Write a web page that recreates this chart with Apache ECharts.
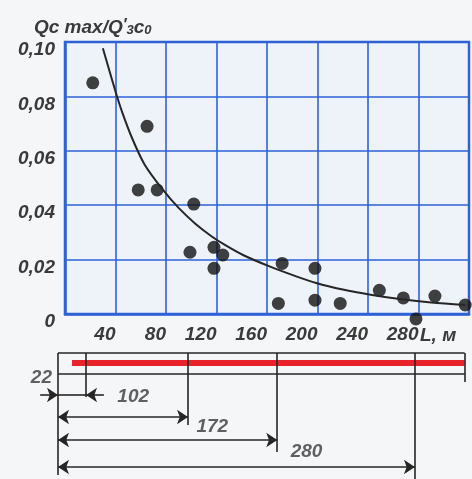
<!DOCTYPE html>
<html><head><meta charset="utf-8">
<script src="https://cdn.jsdelivr.net/npm/echarts@6/dist/echarts.min.js"></script>
<style>html,body{margin:0;padding:0;background:#f4f6f8}#c{width:472px;height:479px}</style>
</head><body><div id="c"></div>
<script>
// Main chart data
const xTicks = [0, 40, 80, 120, 160, 200, 240, 280, 320];
const yTicks = [0, 0.02, 0.04, 0.06, 0.08, 0.10];
const pointL = [22, 65, 58, 73, 102, 99, 118, 125, 118, 172, 169, 198, 198, 218, 249, 268, 278, 293, 317];
const pointQ = [0.085, 0.069, 0.0456, 0.0456, 0.0404, 0.0227, 0.0245, 0.0217, 0.0168, 0.0186, 0.0039, 0.0168, 0.0051, 0.0039, 0.0087, 0.0059, -0.0018, 0.0066, 0.0033];
const curveL = [30, 40, 45, 53, 63, 77, 90, 103, 116, 127, 141, 162, 181, 199, 220, 242, 268, 290, 317];
const curveQ = [0.0977, 0.0818, 0.0746, 0.0648, 0.0550, 0.0460, 0.0390, 0.0333, 0.0286, 0.0253, 0.0217, 0.0175, 0.0142, 0.0114, 0.0090, 0.0071, 0.0053, 0.0042, 0.0033];
// Schematic data (metres)
const dimMarks = [22, 102, 172, 280];
const dimLabels = ['22', '102', '172', '280'];
const pipeStart = 11, pipeEnd = 319;

const BLUE = '#2f62d6';
const INK = '#262626';
const TXT = '#3a3a3a';
const FONT = 'Liberation Sans';

// schematic rows (vertical offsets in the lower panel)
const rowTop = 0, rowBottom = 21, rowRed = 10;
const tickLen = [44, 72, 99, 126];
const arrowRow = [42, 64, 87, 114];
const labelPos = [[-13, 25], [59, 44], [121, 74], [195, 99]];

const lineData = [];
lineData.push({coords: [[0, rowTop], [pipeEnd, rowTop]]});
lineData.push({coords: [[0, rowBottom], [pipeEnd, rowBottom]]});
lineData.push({coords: [[pipeEnd, rowTop], [pipeEnd, rowBottom + 8]]});
lineData.push({coords: [[0, rowTop], [0, 122]]});
dimMarks.forEach((m, i) => lineData.push({coords: [[m, rowTop], [m, tickLen[i]]]}));
// dimension 22: outside arrows
lineData.push({coords: [[-14, arrowRow[0]], [0, arrowRow[0]]], symbol: ['none', 'arrow']});
lineData.push({coords: [[0, arrowRow[0]], [dimMarks[0], arrowRow[0]]]});
lineData.push({coords: [[36, arrowRow[0]], [dimMarks[0], arrowRow[0]]], symbol: ['none', 'arrow']});
for (let i = 1; i < dimMarks.length; i++) {
  lineData.push({coords: [[0, arrowRow[i]], [dimMarks[i], arrowRow[i]]], symbol: ['arrow', 'arrow']});
}

const txt = (size) => ({fontFamily: FONT, fontStyle: 'italic', fontWeight: 'bold', fontSize: size, color: TXT});

const chart = echarts.init(document.getElementById('c'));
chart.setOption({
  backgroundColor: '#f4f6f8',
  animation: false,
  title: {
    left: 29, top: 13,
    text: '{a|Qc max/Q}{p|′}{s|3}{a|c}{s|0}',
    textStyle: {
      rich: {
        a: txt(19),
        p: Object.assign(txt(16), {verticalAlign: 'top'}),
        s: Object.assign(txt(13), {verticalAlign: 'bottom'})
      }
    }
  },
  graphic: [{
    type: 'text', left: 420, top: 326,
    style: {text: 'L, м', fontFamily: FONT, fontStyle: 'italic', fontWeight: 'bold', fontSize: 19, fill: TXT}
  }],
  grid: [
    {left: 65, top: 42, width: 404, height: 272, show: true, borderColor: BLUE, borderWidth: 2.5, backgroundColor: '#eef3f9'},
    {left: 58, top: 353, width: 413, height: 126}
  ],
  xAxis: [{
    gridIndex: 0, type: 'value', min: 0, max: 320, interval: 40,
    axisLine: {lineStyle: {color: BLUE, width: 2.5}},
    axisTick: {show: false},
    splitLine: {lineStyle: {color: BLUE, width: 1.6}},
    axisLabel: Object.assign(txt(19), {
      margin: 11, align: 'right',
      formatter: v => (v === 0 || v === 320) ? '' : String(v)
    })
  }, {
    gridIndex: 1, type: 'value', min: 0, max: 324, show: false
  }],
  yAxis: [{
    gridIndex: 0, type: 'value', min: 0, max: 0.10, interval: 0.02,
    axisLine: {show: true, lineStyle: {color: BLUE, width: 2.5}},
    axisTick: {show: false},
    splitLine: {lineStyle: {color: BLUE, width: 1.6}},
    axisLabel: Object.assign(txt(19), {
      margin: 10, verticalAlign: 'top', lineHeight: 16,
      formatter: v => v === 0 ? '0' : v.toFixed(2).replace('.', ',')
    })
  }, {
    gridIndex: 1, type: 'value', min: 0, max: 126, inverse: true, show: false
  }],
  series: [{
    type: 'line', xAxisIndex: 0, yAxisIndex: 0,
    data: curveL.map((l, i) => [l, curveQ[i]]),
    smooth: 0.3, showSymbol: false, symbol: 'none',
    lineStyle: {color: INK, width: 2}
  }, {
    type: 'scatter', xAxisIndex: 0, yAxisIndex: 0, clip: false,
    data: pointL.map((l, i) => [l, pointQ[i]]),
    symbolSize: 13, itemStyle: {color: '#111'}
  }, {
    type: 'lines', coordinateSystem: 'cartesian2d', xAxisIndex: 1, yAxisIndex: 1, clip: false,
    data: [{coords: [[pipeStart, rowRed], [pipeEnd, rowRed]]}],
    symbol: 'none', lineStyle: {color: '#e8232b', width: 6, opacity: 1}
  }, {
    type: 'lines', coordinateSystem: 'cartesian2d', xAxisIndex: 1, yAxisIndex: 1, clip: false,
    data: lineData, symbol: 'none', symbolSize: 11,
    lineStyle: {color: INK, width: 1.6, opacity: 1}
  }, {
    type: 'scatter', xAxisIndex: 1, yAxisIndex: 1, clip: false,
    data: labelPos.map((p, i) => ({value: p, name: dimLabels[i]})),
    symbolSize: 0,
    label: Object.assign(txt(19), {show: true, position: 'inside', formatter: '{b}'})
  }]
});
</script></body></html>
